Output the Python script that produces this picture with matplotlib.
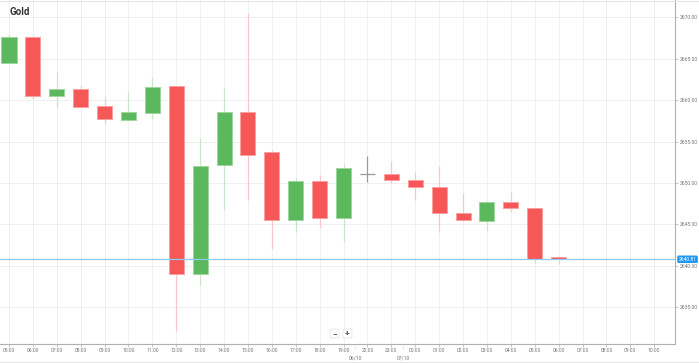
import matplotlib
matplotlib.use("Agg")
import matplotlib.pyplot as plt
from matplotlib.patches import FancyBboxPatch

plt.rcParams['font.family'] = ['Roboto', 'DejaVu Sans']

hours = ["05:00", "06:00", "07:00", "08:00", "09:00", "10:00", "11:00", "12:00",
         "13:00", "14:00", "15:00", "16:00", "17:00", "18:00", "19:00", "22:00",
         "23:00", "00:00", "01:00", "02:00", "03:00", "04:00", "05:00", "06:00",
         "07:00", "08:00", "09:00", "10:00"]
opens = [2664.4, 2667.6, 2660.5, 2661.3, 2659.3, 2657.6, 2658.4, 2661.7, 2639.0,
         2652.2, 2658.6, 2653.7, 2645.6, 2650.3, 2645.8, 2651.05, 2651.05, 2650.4,
         2649.5, 2646.4, 2645.4, 2647.7, 2647.0, 2641.05]
closes = [2667.6, 2660.5, 2661.3, 2659.2, 2657.7, 2658.5, 2661.6, 2639.0, 2652.1,
          2658.6, 2653.4, 2645.5, 2650.2, 2645.8, 2651.8, 2651.05, 2650.4, 2649.5,
          2646.4, 2645.5, 2647.7, 2647.0, 2640.9, 2640.81]
highs = [2668.0, 2667.8, 2663.4, 2661.8, 2660.4, 2661.0, 2662.8, 2661.7, 2655.4,
         2661.5, 2670.5, 2654.0, 2650.6, 2651.0, 2652.3, 2653.25, 2652.6, 2651.3,
         2652.1, 2648.8, 2647.7, 2648.9, 2647.0, 2641.2]
lows = [2664.3, 2660.1, 2659.0, 2659.0, 2657.1, 2657.6, 2657.7, 2632.2, 2637.7,
        2646.8, 2648.0, 2642.1, 2644.1, 2644.6, 2642.9, 2650.1, 2650.0, 2648.0,
        2644.1, 2645.4, 2644.2, 2646.5, 2640.3, 2640.2]
price_ticks = [2635, 2640, 2645, 2650, 2655, 2660, 2665, 2670]
date_labels = ["06/10", "07/10"]
date_positions = [14.5, 16.5]
current_price = 2640.81
title = "Gold"

GREEN, GREEN_W, GREEN_E = "#5cb85c", "#c8e6c8", "#9fd59f"
RED, RED_W, RED_E = "#f65858", "#fbc8c8", "#fba0a0"
GRAY = "#9a9a9a"

fig = plt.figure(figsize=(6.99, 3.63), dpi=100)
W, H = 699, 363
ax = fig.add_axes([0, (H - 344) / H, 675 / W, 344 / H])
ax.set_xlim(-0.377, 27.87)
ax.set_ylim(2630.6, 2672.05)

xs = list(range(len(opens)))
for i in xs:
    o, c, h, l = opens[i], closes[i], highs[i], lows[i]
    if abs(o - c) < 1e-9:
        ax.vlines(i, l, h, color=GRAY, lw=0.9, zorder=3)
        ax.hlines(o, i - 0.32, i + 0.32, color=GRAY, lw=0.9, zorder=3)
        continue
    up = c > o
    wc = GREEN_W if up else RED_W
    fc = GREEN if up else RED
    ec = GREEN_E if up else RED_E
    ax.vlines(i, l, h, color=wc, lw=0.9, zorder=2)
    ax.bar(i, abs(c - o), bottom=min(o, c), width=0.63, color=fc,
           edgecolor=ec, linewidth=0.7, zorder=3)

# grid
for t in price_ticks:
    ax.axhline(t, color="#f0f0f0", lw=0.7, zorder=0)
for i in range(len(hours)):
    ax.axvline(i, color="#f0f0f0", lw=0.7, zorder=0)

ax.axhline(current_price, color="#8ccbf4", lw=0.9, zorder=4)

for s in ["left", "top"]:
    ax.spines[s].set_visible(False)
ax.spines["right"].set_color("#b0b0b0")
ax.spines["bottom"].set_color("#b0b0b0")
ax.spines["right"].set_linewidth(0.8)
ax.spines["bottom"].set_linewidth(0.8)

ax.yaxis.tick_right()
ax.set_yticks(price_ticks)
ax.set_yticklabels([f"{t:.2f}" for t in price_ticks])
ax.tick_params(axis="y", length=2.5, width=0.5, color="#b0b0b0", pad=1,
               labelsize=3.6, labelcolor="#777777")
ax.set_xticks(range(len(hours)))
ax.set_xticklabels(hours)
ax.tick_params(axis="x", length=2, width=0.5, color="#b0b0b0", pad=1,
               labelsize=3.6, labelcolor="#777777")

for lab, pos in zip(date_labels, date_positions):
    ax.annotate(lab, xy=(pos, 0), xycoords=("data", "axes fraction"),
                xytext=(0, -8), textcoords="offset points",
                ha="center", va="top", fontsize=3.6, color="#777777",
                annotation_clip=False)
    ax.annotate("", xy=(pos, 0), xycoords=("data", "axes fraction"),
                xytext=(pos, -0.022), textcoords=("data", "axes fraction"),
                arrowprops=dict(arrowstyle="-", color="#d0d0d0", lw=0.5),
                annotation_clip=False)

# current price label
ax.annotate(f"{current_price:.2f}", xy=(1.0, current_price),
            xycoords=("axes fraction", "data"), xytext=(2.5, 0),
            textcoords="offset points", ha="left", va="center",
            fontsize=3.6, color="white",
            bbox=dict(boxstyle="round,pad=0.25,rounding_size=0.3",
                      fc="#2196f3", ec="none"),
            annotation_clip=False, zorder=10)

# title
fig.text(10 / W, 1 - 12 / H, title, fontsize=7, fontweight="bold",
         color="#333333", ha="left", va="center")

# zoom buttons
for xp, sym in [(330, "\u2212"), (343, "+")]:
    fig.patches.append(FancyBboxPatch((xp / W, (H - 338) / H), 9 / W, 9 / H,
                                      boxstyle="round,pad=0,rounding_size=0.003",
                                      transform=fig.transFigure, fc="white",
                                      ec="#e0e0e0", lw=0.5))
    fig.text((xp + 4.5) / W, (H - 333.5) / H, sym, fontsize=6, color="#555555",
             ha="center", va="center", fontweight="bold")

# frame lines
fig.add_artist(plt.Line2D([0, 1], [1 - 0.5 / H, 1 - 0.5 / H], transform=fig.transFigure,
                          color="#e6e6e6", lw=0.8))
fig.add_artist(plt.Line2D([0, 1], [1.5 / H, 1.5 / H], transform=fig.transFigure,
                          color="#e6e6e6", lw=0.8))

fig.savefig("out.png", dpi=100)
